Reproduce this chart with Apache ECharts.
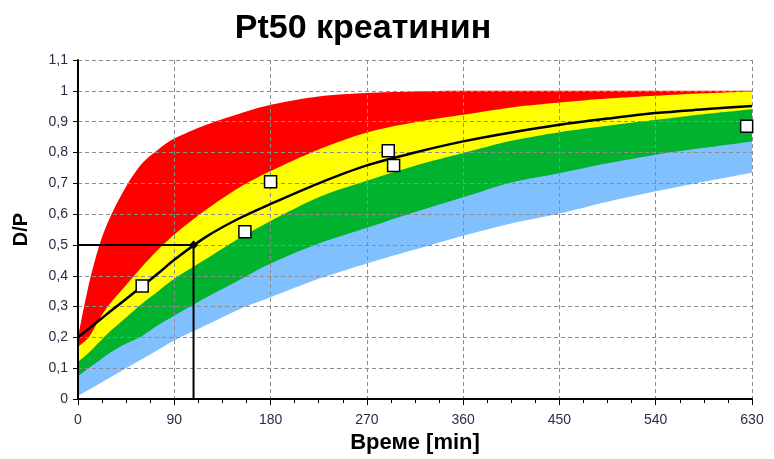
<!DOCTYPE html>
<html>
<head>
<meta charset="utf-8">
<script src="https://cdn.jsdelivr.net/npm/echarts@6/dist/echarts.min.js"></script>
<style>
  html, body { margin: 0; padding: 0; background: #fff; }
  #chart { width: 774px; height: 459px; }
</style>
</head>
<body>
<div id="chart"></div>
<script>
// time points (min) for the reference bands and fitted curve
const times = [0, 10, 20, 30, 45, 60, 75, 90, 120, 150, 180, 225, 270, 315, 360, 405, 450, 495, 540, 585, 630];
// upper edges of the bands, top to bottom
const redTop = [0.20, 0.37, 0.50, 0.59, 0.69, 0.765, 0.81, 0.845, 0.89, 0.925, 0.955, 0.982, 0.993, 0.998, 1.0, 1.0, 1.0, 1.0, 1.0, 1.0, 1.0];
const yellowTop = [0.17, 0.20, 0.26, 0.31, 0.37, 0.43, 0.485, 0.534, 0.615, 0.685, 0.74, 0.81, 0.865, 0.898, 0.922, 0.946, 0.962, 0.975, 0.984, 0.992, 0.998];
const greenTop = [0.12, 0.15, 0.185, 0.22, 0.265, 0.31, 0.35, 0.39, 0.455, 0.52, 0.578, 0.655, 0.708, 0.757, 0.798, 0.838, 0.866, 0.887, 0.906, 0.924, 0.94];
const blueTop = [0.075, 0.10, 0.125, 0.15, 0.18, 0.205, 0.24, 0.27, 0.33, 0.385, 0.44, 0.505, 0.556, 0.607, 0.655, 0.703, 0.733, 0.765, 0.793, 0.815, 0.836];
const blueBottom = [0.01, 0.03, 0.05, 0.07, 0.10, 0.13, 0.16, 0.19, 0.24, 0.29, 0.33, 0.39, 0.44, 0.485, 0.53, 0.57, 0.602, 0.64, 0.674, 0.705, 0.734];
// fitted patient curve
const fitCurve = [0.20, 0.228, 0.256, 0.284, 0.325, 0.366, 0.408, 0.452, 0.527, 0.585, 0.633, 0.70, 0.758, 0.80, 0.836, 0.865, 0.89, 0.91, 0.928, 0.94, 0.951];
// measured samples
const sampleTimes = [60, 156, 180, 290, 295, 625];
const sampleValues = [0.367, 0.543, 0.705, 0.806, 0.758, 0.885];
// Pt50 point (time at D/P = 0.5)
const pt50Time = 108;
const pt50Value = 0.5;

const xTicks = [0, 90, 180, 270, 360, 450, 540, 630];

function pairs(xs, ys) {
  return xs.map(function (x, i) { return [x, ys[i]]; });
}

function band(name, values, color) {
  return {
    name: name,
    type: 'line',
    smooth: 0.3,
    symbol: 'none',
    silent: true,
    z: 1,
    lineStyle: { width: 0 },
    areaStyle: { color: color, opacity: 1, origin: 'start' },
    data: pairs(times, values)
  };
}

var chartDom = echarts.init(document.getElementById('chart'));
var option = {
  animation: false,
  backgroundColor: '#fff',
  title: {
    text: 'Pt50 креатинин',
    left: 358,
    top: 7,
    textAlign: 'center',
    textStyle: { fontFamily: 'Liberation Sans', fontSize: 34, fontWeight: 'bold', color: '#000' }
  },
  grid: { left: 78, right: 22, top: 60, bottom: 59 },
  xAxis: {
    type: 'value',
    min: 0,
    max: 630,
    interval: 90,
    z: 3,
    name: 'Време [min]',
    nameLocation: 'middle',
    nameGap: 32,
    nameTextStyle: { fontFamily: 'Liberation Sans', fontSize: 22, fontWeight: 'bold', color: '#000' },
    axisLine: { onZero: false, lineStyle: { color: '#000', width: 2 } },
    axisTick: { show: true, length: 6, lineStyle: { color: '#000', width: 1 } },
    minorTick: { show: true, splitNumber: 4, length: 4, lineStyle: { color: '#000' } },
    axisLabel: {
      margin: 14,
      fontFamily: 'Liberation Sans',
      fontSize: 14,
      color: '#2b2b4a',
      formatter: function (v) { return xTicks.indexOf(v) >= 0 ? String(v) : ''; }
    },
    splitLine: { show: true, lineStyle: { color: '#8c8c8c', type: [4, 3], width: 1 } }
  },
  yAxis: {
    type: 'value',
    min: 0,
    max: 1.1,
    interval: 0.1,
    z: 3,
    name: 'D/P',
    nameLocation: 'middle',
    nameGap: 47,
    nameTextStyle: { fontFamily: 'Liberation Sans', fontSize: 20, fontWeight: 'bold', color: '#000' },
    axisLine: { show: true, onZero: false, lineStyle: { color: '#000', width: 2 } },
    axisTick: { show: true, length: 5, lineStyle: { color: '#000' } },
    axisLabel: {
      margin: 10,
      fontFamily: 'Liberation Sans',
      fontSize: 14,
      color: '#2b2b4a',
      formatter: function (v) { return String(Math.round(v * 10) / 10).replace('.', ','); }
    },
    splitLine: { show: true, lineStyle: { color: '#8c8c8c', type: [4, 3], width: 1 } }
  },
  series: [
    band('red', redTop, '#ff0000'),
    band('yellow', yellowTop, '#ffff00'),
    band('green', greenTop, '#00b22d'),
    band('blue', blueTop, '#80c0ff'),
    band('below', blueBottom, '#ffffff'),
    {
      name: 'fit',
      type: 'line',
      smooth: 0.3,
      symbol: 'none',
      z: 5,
      lineStyle: { color: '#000', width: 2.5 },
      data: pairs(times, fitCurve)
    },
    {
      name: 'pt50',
      type: 'line',
      symbol: 'none',
      z: 5,
      lineStyle: { color: '#000', width: 2 },
      data: [[0, pt50Value], [pt50Time, pt50Value], [pt50Time, 0]]
    },
    {
      name: 'pt50 point',
      type: 'scatter',
      symbol: 'diamond',
      symbolSize: 9,
      z: 6,
      itemStyle: { color: '#000', opacity: 1 },
      data: [[pt50Time, pt50Value]]
    },
    {
      name: 'samples',
      type: 'scatter',
      symbol: 'rect',
      symbolSize: 12,
      z: 7,
      itemStyle: { color: '#fff', borderColor: '#000', borderWidth: 1.5, opacity: 1 },
      data: pairs(sampleTimes, sampleValues)
    }
  ]
};
option && chartDom.setOption(option);
</script>
</body>
</html>
